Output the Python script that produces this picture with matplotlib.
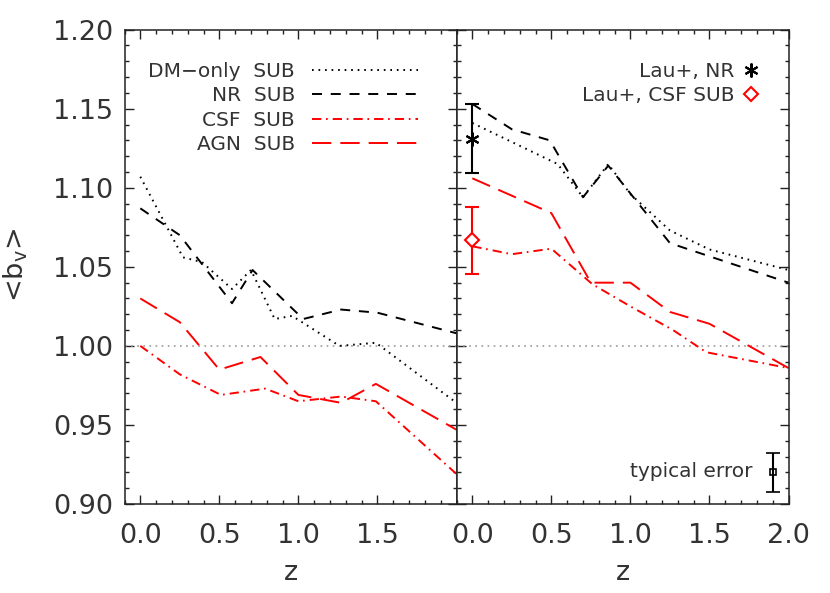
import numpy as np
import matplotlib
matplotlib.use('Agg')
import matplotlib.pyplot as plt
from matplotlib.ticker import MultipleLocator, FormatStrFormatter

# --- data ---
# left panel
z_dm_l = [0.0, 0.27, 0.39, 0.58, 0.70, 0.85, 0.96, 1.26, 1.49, 2.0]
dm_l = [1.107, 1.056, 1.053, 1.036, 1.048, 1.017, 1.019, 1.000, 1.002, 0.964]
z_nr_l = [0.0, 0.25, 0.58, 0.71, 1.03, 1.27, 1.5, 2.0]
nr_l = [1.087, 1.070, 1.027, 1.048, 1.017, 1.023, 1.021, 1.008]
z_csf_l = [0.0, 0.25, 0.51, 0.79, 1.0, 1.27, 1.49, 2.0]
csf_l = [1.000, 0.982, 0.969, 0.973, 0.965, 0.968, 0.965, 0.919]
z_agn_l = [0.0, 0.25, 0.5, 0.76, 1.0, 1.27, 1.49, 2.0]
agn_l = [1.030, 1.015, 0.985, 0.993, 0.969, 0.964, 0.976, 0.947]

# right panel
z_dm_r = [0.0, 0.54, 0.70, 0.86, 1.0, 1.25, 1.5, 2.0]
dm_r = [1.141, 1.115, 1.094, 1.115, 1.096, 1.073, 1.061, 1.048]
z_nr_r = [0.0, 0.25, 0.49, 0.70, 0.86, 1.25, 2.0]
nr_r = [1.153, 1.137, 1.130, 1.094, 1.114, 1.065, 1.040]
z_agn_r = [0.0, 0.5, 0.75, 1.0, 1.25, 1.5, 2.0]
agn_r = [1.106, 1.084, 1.040, 1.040, 1.0215, 1.014, 0.986]
z_csf_r = [0.0, 0.25, 0.5, 0.76, 1.0, 1.27, 1.48, 2.0]
csf_r = [1.063, 1.058, 1.0615, 1.039, 1.025, 1.010, 0.996, 0.986]

# Lau+ points at z=0
z_lau = [0.0]
lau_nr = [1.131]
lau_nr_err = [0.0218]
lau_csf = [1.0667]
lau_csf_err = [0.021]

# typical error bar
z_typ = [1.9]
b_typ = [0.920]
typ_err = [0.0125]

# --- styles ---
plt.rcParams['font.family'] = 'DejaVu Sans'
plt.rcParams['lines.scale_dashes'] = False
TXT = '#333333'
DOT = (0, (1.2, 3.5))
DASH = (0, (7.2, 6.3))
DASHDOT = (0, (6.7, 3.4, 1.2, 3.6))
LONGDASH = (0, (13.9, 6.5))
LW = 1.4
TICKFS = 19.5
LEGFS = 14.5

fig = plt.figure(figsize=(8.3, 5.93), dpi=100)
ax1 = fig.add_axes([0.150, 0.150, 0.400, 0.800])
ax2 = fig.add_axes([0.550, 0.150, 0.400, 0.800], sharey=ax1)

for ax in (ax1, ax2):
    ax.axhline(1.0, color='#999999', lw=1.2, ls=(0, (1.2, 3.2)))

# left panel curves
l1, = ax1.plot(z_dm_l, dm_l, color='black', lw=LW, ls=DOT, label='DM\u2212only  SUB')
l2, = ax1.plot(z_nr_l, nr_l, color='black', lw=LW, ls=DASH, label='NR  SUB')
l3, = ax1.plot(z_csf_l, csf_l, color='red', lw=LW, ls=DASHDOT, label='CSF  SUB')
l4, = ax1.plot(z_agn_l, agn_l, color='red', lw=LW, ls=LONGDASH, label='AGN  SUB')

leg1 = ax1.legend(handles=[l1, l2, l3, l4], loc='upper right', bbox_to_anchor=(0.885, 0.932),
                  frameon=False, markerfirst=False, fontsize=LEGFS, handlelength=5.3,
                  handletextpad=0.83, labelspacing=0.27, borderpad=0, borderaxespad=0)
for t in leg1.get_texts():
    t.set_color(TXT)

# right panel curves
ax2.plot(z_dm_r, dm_r, color='black', lw=LW, ls=DOT)
ax2.plot(z_nr_r, nr_r, color='black', lw=LW, ls=DASH)
ax2.plot(z_csf_r, csf_r, color='red', lw=LW, ls=DASHDOT)
ax2.plot(z_agn_r, agn_r, color='red', lw=LW, ls=LONGDASH)

ax2.errorbar(z_lau, lau_nr, yerr=lau_nr_err, fmt='none', ecolor='black',
             elinewidth=1.5, capsize=5, capthick=1.5)
ax2.errorbar(z_lau, lau_csf, yerr=lau_csf_err, fmt='none', ecolor='red',
             elinewidth=1.5, capsize=5, capthick=1.5)
m1, = ax2.plot(z_lau, lau_nr, ls='none', marker=(6, 2, 0), ms=10, mew=1.5,
               color='black', label='Lau+, NR')
m2, = ax2.plot(z_lau, lau_csf, ls='none', marker='D', ms=7, mew=1.5, mfc='white',
               mec='red', label='Lau+, CSF SUB')

leg2 = ax2.legend(handles=[m1, m2], loc='upper right', bbox_to_anchor=(0.918, 0.932),
                  frameon=False, markerfirst=False, fontsize=LEGFS, handlelength=1.0,
                  handletextpad=0.33, labelspacing=0.27, borderpad=0, borderaxespad=0)
for t in leg2.get_texts():
    t.set_color(TXT)

ax2.errorbar(z_typ, b_typ, yerr=typ_err, fmt='s', ms=4, mfc='none', mec='black', mew=1.2,
             ecolor='black', elinewidth=1.5, capsize=5, capthick=1.5)
ax2.text(1.775, 0.9205, 'typical error', ha='right', va='center', fontsize=LEGFS, color=TXT)

# axes cosmetics
for ax in (ax1, ax2):
    ax.set_xlim(-0.1, 2.0)
    ax.set_ylim(0.90, 1.20)
    ax.xaxis.set_major_locator(MultipleLocator(0.5))
    ax.xaxis.set_minor_locator(MultipleLocator(0.1))
    ax.yaxis.set_major_locator(MultipleLocator(0.05))
    ax.yaxis.set_minor_locator(MultipleLocator(0.01))
    ax.xaxis.set_major_formatter(FormatStrFormatter('%.1f'))
    ax.yaxis.set_major_formatter(FormatStrFormatter('%.2f'))
    ax.tick_params(which='both', direction='in', top=True, right=True, width=1.0,
                   color='#222222', labelcolor=TXT, labelsize=TICKFS)
    ax.tick_params(which='major', length=6.3)
    ax.tick_params(which='minor', length=3.2)
    ax.tick_params(axis='x', pad=14)
    ax.tick_params(axis='y', pad=8)
    for s in ax.spines.values():
        s.set_linewidth(1.1)
        s.set_color('#222222')
    ax.set_xlabel('z', fontsize=TICKFS, color=TXT)
    ax.xaxis.set_label_coords(0.5, -0.118)

ax1.set_xticks([0.0, 0.5, 1.0, 1.5])
ax1.xaxis.set_minor_locator(MultipleLocator(0.1))
ax2.tick_params(labelleft=False)
ax2.set_xticks([0.0, 0.5, 1.0, 1.5, 2.0])

ax1.set_ylabel(r'<b$_{\rm v}$>', fontsize=TICKFS, color=TXT)
ax1.yaxis.set_label_coords(-0.285, 0.504)

fig.savefig('out.png', dpi=100)
